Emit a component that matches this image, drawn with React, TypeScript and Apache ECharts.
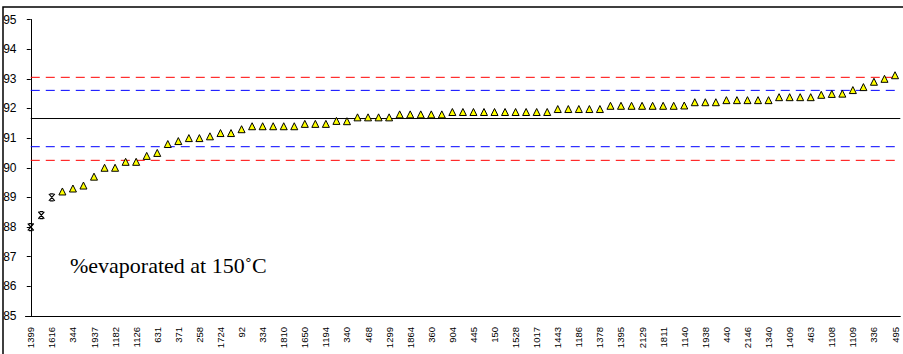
import React, { useEffect, useRef } from "react";
import * as echarts from "echarts";

// Sample ids printed under every second category
const labelledIds = [
  "1399", "1616", "344", "1937", "1182", "1126", "631", "371", "258", "1724",
  "92", "334", "1810", "1650", "1194", "340", "468", "1299", "1864", "360",
  "904", "445", "150", "1528", "1017", "1443", "1186", "1378", "1395", "2129",
  "1811", "1140", "1938", "440", "2146", "1340", "1409", "463", "1108", "1109",
  "336", "495",
];

// % evaporated at 150 °C, sorted ascending (83 samples)
const values = [
  88.0, 88.4, 89.0, 89.2, 89.3, 89.4, 89.7, 90.0, 90.0, 90.2,
  90.2, 90.4, 90.5, 90.8, 90.9, 91.0, 91.0, 91.06, 91.17, 91.17,
  91.3, 91.4, 91.4, 91.4, 91.4, 91.4, 91.48, 91.48, 91.48, 91.58,
  91.57, 91.7, 91.7, 91.7, 91.7, 91.8, 91.8, 91.8, 91.8, 91.8,
  91.88, 91.88, 91.88, 91.88, 91.88, 91.88, 91.88, 91.88, 91.88, 91.88,
  91.98, 91.98, 91.98, 91.98, 91.98, 92.09, 92.09, 92.09, 92.09, 92.09,
  92.09, 92.09, 92.1, 92.21, 92.21, 92.21, 92.28, 92.28, 92.28, 92.28,
  92.28, 92.38, 92.38, 92.38, 92.38, 92.46, 92.49, 92.5, 92.62, 92.72,
  92.9, 93.0, 93.12,
];

// Samples drawn with the cross marker
const flaggedIndices = [0, 1, 2];

// Reference levels
const meanValue = 91.66;
const innerLimits = [90.71, 92.61];
const outerLimits = [90.25, 93.05];

const yTicks = { min: 85, max: 95, interval: 1 };

const categories = values.map((_, i) => (i % 2 === 0 ? labelledIds[i / 2] : ""));

const crossSymbol = "path://M0,0L10,10M10,0L0,10M2,0L8,0M2,10L8,10";

// Horizontal reference line from the first sample to the right edge of the plot,
// drawn on a hidden value axis aligned with the category centres.
function refLine(v: number, color: string, type: any) {
  return {
    type: "line",
    xAxisIndex: 1,
    data: [
      [0, v],
      [values.length - 0.5, v],
    ],
    symbol: "none",
    silent: true,
    lineStyle: { color, type, width: 1 },
    z: 2,
  };
}

export default function App() {
  const ref = useRef<HTMLDivElement>(null);

  useEffect(() => {
    if (!ref.current) return;
    const chart = echarts.init(ref.current, null, { renderer: "svg" });

    const triangles = values.map((v, i) => (flaggedIndices.includes(i) ? [i, "-"] : [i, v]));
    const crosses = flaggedIndices.map((i) => [i, values[i]]);

    chart.setOption({
      animation: false,
      backgroundColor: "#ffffff",
      grid: { left: 25.5, right: 2.7, top: 19.5, bottom: 38 },
      xAxis: [
        {
          type: "category",
          data: categories,
          boundaryGap: true,
          axisLine: { lineStyle: { color: "#000", width: 1 } },
          axisTick: { show: false },
          axisLabel: {
            interval: 1,
            rotate: 90,
            margin: 11,
            color: "#000",
            fontSize: 9.5,
            fontFamily: "'Liberation Sans', Arial, sans-serif",
          },
          splitLine: { show: false },
        },
        {
          type: "value",
          min: -0.5,
          max: values.length - 0.5,
          show: false,
          splitLine: { show: false },
        },
      ],
      yAxis: {
        type: "value",
        min: yTicks.min,
        max: yTicks.max,
        interval: yTicks.interval,
        axisLine: { show: true, lineStyle: { color: "#000", width: 1 } },
        axisTick: { show: true, length: 4, lineStyle: { color: "#000" } },
        axisLabel: {
          margin: 9,
          color: "#000",
          fontSize: 12,
          fontFamily: "'Liberation Sans Narrow', 'Arial Narrow', 'Liberation Sans', Arial, sans-serif",
        },
        splitLine: { show: false },
      },
      series: [
        refLine(outerLimits[1], "#ff0000", [9, 6]),
        refLine(innerLimits[1], "#0000ff", [9, 6]),
        refLine(meanValue, "#000000", "solid"),
        refLine(innerLimits[0], "#0000ff", [9, 6]),
        refLine(outerLimits[0], "#ff0000", [9, 6]),
        {
          type: "scatter",
          data: triangles,
          symbol: "triangle",
          symbolSize: [7, 7],
          itemStyle: { color: "#ffff00", borderColor: "#000", borderWidth: 1, opacity: 1 },
          z: 3,
        },
        {
          type: "scatter",
          data: crosses,
          symbol: crossSymbol,
          symbolSize: [6, 7],
          itemStyle: { color: "#000", borderColor: "#000", borderWidth: 1.2, opacity: 1 },
          z: 3,
        },
      ],
      graphic: [
        {
          type: "rect",
          shape: { x: 3, y: 7, width: 1000, height: 1000 },
          style: { fill: "none", stroke: "#000", lineWidth: 1.5 },
          silent: true,
        },
        {
          type: "text",
          x: 70,
          y: 265,
          style: {
            text: "%evaporated at 150˚C",
            font: "22px 'Liberation Serif', 'Times New Roman', serif",
            fill: "#000",
            verticalAlign: "middle",
          },
          silent: true,
        },
      ],
    });

    return () => chart.dispose();
  }, []);

  return (
    <div
      ref={ref}
      style={{ position: "absolute", left: 0, top: 0, width: 903, height: 354 }}
    />
  );
}
